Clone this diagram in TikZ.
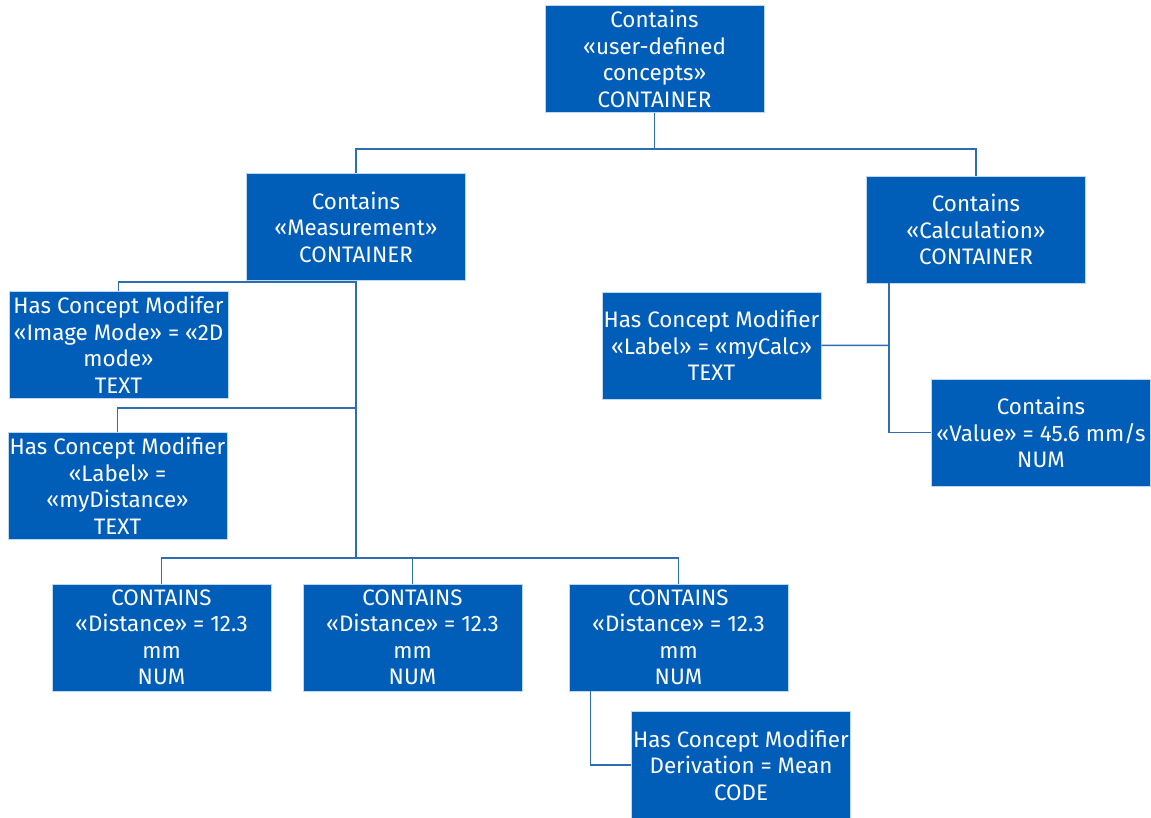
\documentclass[tikz,border=0pt]{standalone}
\usepackage{fontspec}
\setmainfont{Fira Sans}
\definecolor{boxblue}{HTML}{005EB8}
\definecolor{edgeblue}{HTML}{BDD7EE}
\definecolor{linkblue}{HTML}{2E6DB4}
\begin{document}
\begin{tikzpicture}[x=1pt, y=-1pt,
  concept/.style={rectangle, draw=edgeblue, line width=0.8pt, fill=boxblue, text=white,
    minimum width=219pt, minimum height=107pt, inner sep=0pt, align=center,
    font=\fontsize{22.4}{26.5}\selectfont},
  link/.style={draw=linkblue, line width=1.5pt}]
  \useasboundingbox (0,0) rectangle (1151,818);

  % root container
  \node[concept] (root) at (654.5, 59) {Contains\\«user-defined\\concepts»\\CONTAINER};

  % the two containers under it
  \node[concept] (meas) at (356, 227) {Contains\\«Measurement»\\CONTAINER};
  \node[concept] (calc) at (976, 229.5) {Contains\\«Calculation»\\CONTAINER};

  % modifiers of the measurement
  \node[concept] (imgmode) at (118.5, 345) {Has Concept Modifer\\«Image Mode» = «2D\\mode»\\TEXT};
  \node[concept] (distlabel) at (117.5, 486) {Has Concept Modifier\\«Label» =\\«myDistance»\\TEXT};

  % distances
  \node[concept] (dist1) at (161.5, 637.5) {CONTAINS\\«Distance» = 12.3\\mm\\NUM};
  \node[concept] (dist2) at (412.5, 637.5) {CONTAINS\\«Distance» = 12.3\\mm\\NUM};
  \node[concept] (dist3) at (678.5, 637.5) {CONTAINS\\«Distance» = 12.3\\mm\\NUM};
  \node[concept] (deriv) at (741, 765) {Has Concept Modifier\\Derivation = Mean\\CODE};

  % children of the calculation
  \node[concept] (calclabel) at (711.5, 345.5) {Has Concept Modifier\\«Label» = «myCalc»\\TEXT};
  \node[concept] (value) at (1041, 432.5) {Contains\\«Value» = 45.6 mm/s\\NUM};

  % root to containers
  \draw[link] (root.south) -- ++(0,36) -| (meas.north);
  \draw[link] (root.south) -- ++(0,36) -| (calc.north);

  % measurement trunk
  \draw[link] (meas.south) -- ++(0,277) coordinate (split);
  \draw[link] (meas.south) ++(0,1) -| (imgmode.north);
  \draw[link] (meas.south) ++(0,127) -| (distlabel.north);
  \draw[link] (split) -| (dist1.north);
  \draw[link] (split) -| (dist2.north);
  \draw[link] (split) -| (dist3.north);
  \draw[link] (dist3.south) ++(-88,0) |- (deriv.west);

  % calculation trunk
  \draw[link] (calc.south) ++(-87,0) |- (value.west);
  \draw[link] (calc.south) ++(-87,62) -- (calclabel.east);
\end{tikzpicture}
\end{document}
